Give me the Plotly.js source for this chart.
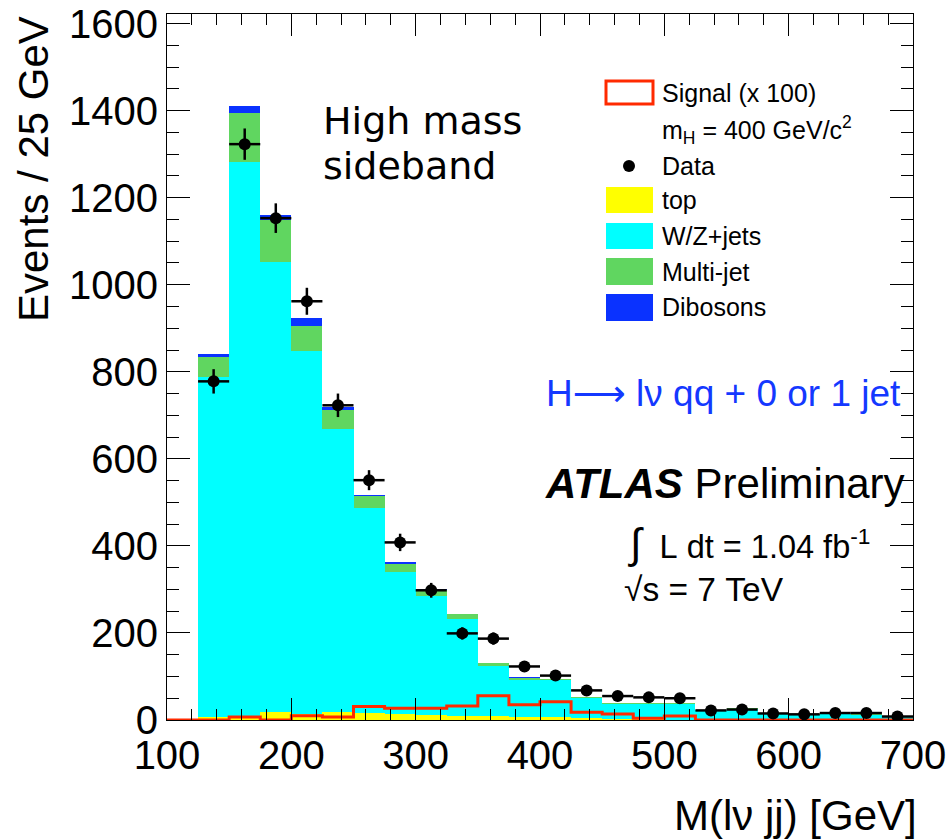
<!DOCTYPE html>
<html>
<head>
<meta charset="utf-8">
<script src="https://cdn.plot.ly/plotly-3.0.1.min.js"></script>
<style>html,body{margin:0;padding:0;background:#fff;}</style>
</head>
<body>
<div id="chart" style="width:951px;height:839px;"></div>
<script>
// ---- data (25 GeV bins, 100-700 GeV) ----
const binCenters = [112.5,137.5,162.5,187.5,212.5,237.5,262.5,287.5,312.5,337.5,362.5,387.5,
                    412.5,437.5,462.5,487.5,512.5,537.5,562.5,587.5,612.5,637.5,662.5,687.5];
const binWidth = 25;
const topBkg   = [0,6,10,18,14,19,15,14,12,10,9,8,6.5,4,3,2,1,0.5,0.5,0,0,0,0,0];
const wzJets   = [0,781,1273,1034,834,649,471,326,273,221,115,85,84.5,46.5,34.5,35.5,35.5,22.2,25.2,13.5,12.5,13.5,12.5,9.5];
const multiJet = [0,46,111,97,57,44,28,19,14,11.5,8,3,3,3,2,2,2,1,1,0.5,0.5,0.5,0.5,0.5];
const dibosons = [0,9,16,11,18,6,4,3,1,0.5,0,2,1,0.5,0.5,0.5,0.5,0.3,0.3,0,0,0,0,0];
const signalX100 = [0,0,7,0,10,7,31,27,27,32,56,35,42,18,14,4,9,0,0,0,0,0,0,0];
const dataCounts = [0,778,1323,1153,962,723,551,408,298,199,187,123,102,68,55,52,50,22,24,15,13,16,16,8];
const dataErrors = [0,28,36,34,31,27,23,20,17,14,14,11,10,8,7,7,7,5,5,4,4,4,4,3];
const xTickLabels = ['100','200','300','400','500','600','700'];

// ---- traces ----
const widths = binCenters.map(() => binWidth);
function barTrace(name, vals, color) {
  return {type:'bar', name:name, x:binCenters, y:vals, width:widths,
          marker:{color:color, line:{width:0}}, hoverinfo:'x+y+name', showlegend:false};
}
const traces = [
  barTrace('top', topBkg, '#ffff00'),
  barTrace('W/Z+jets', wzJets, '#00ffff'),
  barTrace('Multi-jet', multiJet, '#60d660'),
  barTrace('Dibosons', dibosons, '#0a32ff')
];

// signal step outline built from bin edges
const sigEdges = binCenters.map(c => c - binWidth/2).concat([binCenters[binCenters.length-1] + binWidth/2]);
const sigVals = signalX100.concat([signalX100[signalX100.length-1]]);
traces.push({type:'scatter', mode:'lines', name:'Signal (x 100)', x:sigEdges, y:sigVals,
  line:{shape:'hv', color:'#ff2a00', width:3}, showlegend:false, cliponaxis:true});

// data points (bins with entries)
const dx = [], dy = [], de = [];
dataCounts.forEach((v,i) => { if (v > 0) { dx.push(binCenters[i]); dy.push(v); de.push(dataErrors[i]); } });
traces.push({type:'scatter', mode:'markers', name:'Data', x:dx, y:dy,
  marker:{color:'black', size:12, symbol:'circle'},
  error_y:{type:'data', array:de, visible:true, color:'black', thickness:2.5, width:0},
  error_x:{type:'constant', value:binWidth/2, visible:true, color:'black', thickness:2.5, width:0},
  showlegend:false, cliponaxis:true});

// ---- layout helpers ----
const L = 167, R = 913, T = 14, B = 720;
const px = x => (x - L) / (R - L);
const py = y => (B - y) / (B - T);
const FONT = 'Liberation Sans, Arial, sans-serif';
const NB = '\u00a0';

function legendBox(y0, y1, fill, line) {
  return {type:'rect', xref:'paper', yref:'paper', x0:px(606), x1:px(653), y0:py(y1), y1:py(y0),
          fillcolor:fill, line:{color:line || fill, width: line ? 3 : 0}, layer:'above'};
}
const shapes = [
  legendBox(81, 104, 'white', '#ff2a00'),
  legendBox(187, 213, '#ffff00'),
  legendBox(223, 249, '#00ffff'),
  legendBox(258, 285, '#60d660'),
  legendBox(294, 321, '#0a32ff'),
  {type:'circle', xref:'paper', yref:'paper', x0:px(623), x1:px(635), y0:py(172), y1:py(160),
   fillcolor:'black', line:{color:'black', width:0}, layer:'above'}
];

function txt(text, x, y, size, opts) {
  return Object.assign({text:text, xref:'paper', yref:'paper', x:px(x), y:py(y),
    xanchor:'left', yanchor:'middle', showarrow:false,
    font:{family:FONT, size:size, color:'black'}}, opts || {});
}
const annotations = [
  txt('High mass', 321, 121, 38, {font:{family:'DejaVu Sans, sans-serif', size:38, color:'black'}}),
  txt('sideband', 321, 166, 38, {font:{family:'DejaVu Sans, sans-serif', size:38, color:'black'}}),
  txt('Signal (x 100)', 660, 93, 25),
  txt('m<sub>H</sub> = 400 GeV/c<sup>2</sup>', 660, 130, 25),
  txt('Data', 660, 166, 25),
  txt('top', 660, 200, 25),
  txt('W/Z+jets', 660, 236, 25),
  txt('Multi-jet', 660, 272, 25),
  txt('Dibosons', 660, 307, 25),
  txt('H<span style="font-family:DejaVu Sans">\u27f6</span> l\u03bd qq + 0 or 1 jet', 544, 394, 37,
      {font:{family:FONT, size:37, color:'#1438ff'}}),
  txt('<b><i>ATLAS</i></b> Preliminary', 543, 483, 42),
  txt('<span style="font-size:42px">\u222b</span>' + NB + NB + 'L' + NB + 'dt' + NB + '=' + NB + '1.04' + NB + 'fb<sup>-1</sup>', 626, 543, 32.5),
  txt('\u221as' + NB + '=' + NB + '7' + NB + 'TeV', 622, 589, 33.5),
  {text:'Events / 25 GeV', xref:'paper', yref:'paper', x:px(33), y:py(14), xanchor:'center', yanchor:'top',
   textangle:-90, showarrow:false, font:{family:FONT, size:42, color:'black'}},
  {text:'M(l\u03bd jj) [GeV]', xref:'paper', yref:'paper', x:px(919), y:py(815), xanchor:'right', yanchor:'middle',
   showarrow:false, font:{family:FONT, size:42, color:'black'}}
];

const layout = {
  width:951, height:839,
  margin:{l:L, r:951-R, t:T, b:839-B, pad:0},
  paper_bgcolor:'white', plot_bgcolor:'white',
  barmode:'stack', bargap:0, showlegend:false,
  xaxis:{range:[100,700], tickmode:'array', tickvals:xTickLabels.map(Number), ticktext:xTickLabels,
    ticks:'inside', ticklen:22, tickwidth:1, tickcolor:'black',
    minor:{dtick:20, tick0:0, ticks:'inside', ticklen:11, tickcolor:'black', tickwidth:1, showgrid:false},
    showline:true, linecolor:'black', linewidth:1, mirror:'ticks',
    showgrid:false, zeroline:false, tickfont:{family:FONT, size:40, color:'black'}, fixedrange:true},
  yaxis:{range:[0,1622], dtick:200, tick0:0,
    ticks:'inside', ticklen:23, tickwidth:1, tickcolor:'black',
    minor:{dtick:50, tick0:0, ticks:'inside', ticklen:12, tickcolor:'black', tickwidth:1, showgrid:false},
    showline:true, linecolor:'black', linewidth:1, mirror:'ticks',
    showgrid:false, zeroline:false, tickfont:{family:FONT, size:40, color:'black'}, fixedrange:true},
  shapes:shapes,
  annotations:annotations
};

Plotly.newPlot('chart', traces, layout, {staticPlot:true, displayModeBar:false});
</script>
</body>
</html>
